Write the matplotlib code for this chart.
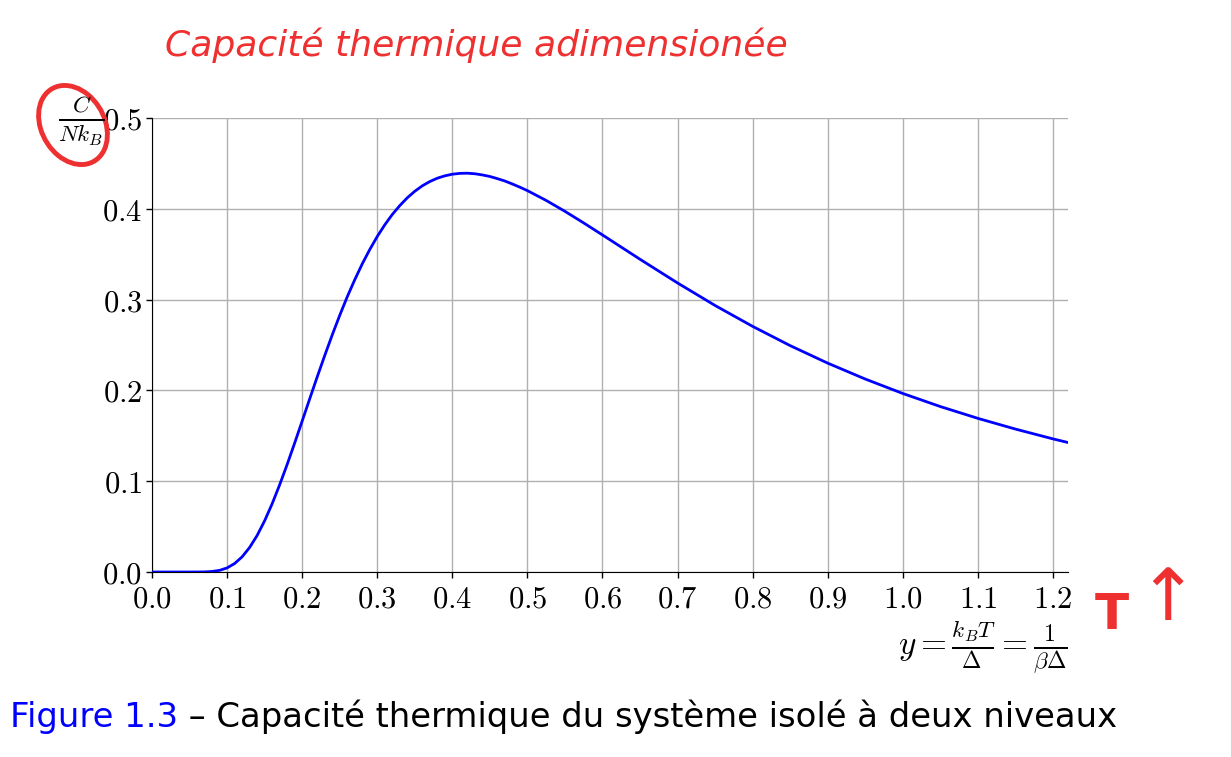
import matplotlib
matplotlib.use("Agg")
import matplotlib.pyplot as plt
from matplotlib.patches import Ellipse

plt.rcParams['mathtext.fontset'] = 'cm'

# values
y_vals = [0.0, 0.02, 0.04, 0.06, 0.07, 0.08, 0.09, 0.10, 0.11, 0.12, 0.13, 0.14,
          0.15, 0.16, 0.17, 0.18, 0.19, 0.20, 0.21, 0.22, 0.23, 0.24, 0.25, 0.26,
          0.27, 0.28, 0.29, 0.30, 0.31, 0.32, 0.33, 0.34, 0.35, 0.36, 0.37, 0.38,
          0.39, 0.40, 0.41, 0.42, 0.43, 0.44, 0.45, 0.46, 0.47, 0.48, 0.49, 0.50,
          0.525, 0.55, 0.575, 0.60, 0.65, 0.70, 0.75, 0.80, 0.85, 0.90, 0.95,
          1.00, 1.05, 1.10, 1.15, 1.20, 1.22]
c_vals = [0.0, 0.0, 0.0, 0.00002, 0.0001, 0.0006, 0.0018, 0.0045, 0.0093, 0.0167, 0.0270, 0.0402,
          0.0564, 0.0751, 0.0960, 0.1184, 0.1420, 0.1662, 0.1906, 0.2148, 0.2383, 0.2610, 0.2826, 0.3030,
          0.3218, 0.3393, 0.3551, 0.3695, 0.3823, 0.3937, 0.4035, 0.4121, 0.4193, 0.4253, 0.4300, 0.4337,
          0.4363, 0.4381, 0.4390, 0.4392, 0.4386, 0.4373, 0.4356, 0.4332, 0.4306, 0.4273, 0.4238, 0.4200,
          0.4092, 0.3972, 0.3844, 0.3712, 0.3444, 0.3183, 0.2935, 0.2705, 0.2493, 0.2300, 0.2125,
          0.1966, 0.1822, 0.1692, 0.1574, 0.1466, 0.1426]
xticks = [0.0, 0.1, 0.2, 0.3, 0.4, 0.5, 0.6, 0.7, 0.8, 0.9, 1.0, 1.1, 1.2]
yticks = [0.0, 0.1, 0.2, 0.3, 0.4, 0.5]

fig = plt.figure(figsize=(12.31, 7.57), dpi=100)
ax = fig.add_axes([152/1231, 1-572/757, 916/1231, 454/757])

ax.plot(y_vals, c_vals, color='#0000ff', lw=2.0, zorder=3)
ax.set_xlim(0, 1.22)
ax.set_ylim(0, 0.5)
ax.set_xticks(xticks)
ax.set_yticks(yticks)
ax.set_xticklabels(['$%.1f$' % t for t in xticks], fontsize=22)
ax.set_yticklabels(['$%.1f$' % t for t in yticks], fontsize=22)
ax.tick_params(direction='out', length=4, width=1, pad=3)
ax.tick_params(axis='x', pad=5)
ax.grid(True, color='#b0b0b0', lw=1)
ax.set_axisbelow(True)
for s in ['top', 'right']:
    ax.spines[s].set_visible(False)

fig.text(81/1231, 1-121/757, r'$\frac{C}{Nk_B}$', fontsize=24, ha='center', va='center')
fig.text(1068/1231, 1-647/757, r'$y = \frac{k_BT}{\Delta} = \frac{1}{\beta\Delta}$',
         fontsize=24, ha='right', va='center')

# red handwritten notes
red = '#ee3030'
fig.text(165/1231, 1-45/757, 'Capacité thermique adimensionée', color=red,
         fontsize=26, fontstyle='italic', va='center', family='DejaVu Sans')
fig.patches.append(Ellipse((73/1231, 1-125/757), 66/1231, 80/757, transform=fig.transFigure,
                           fill=False, ec=red, lw=3.5, angle=10))
fig.text(1112/1231, 1-615/757, 'T', color=red, fontsize=36, va='center', ha='center',
         fontweight='bold')
fig.text(1167/1231, 1-600/757, '↑', color=red, fontsize=52, va='center', ha='center')

# caption
t1 = fig.text(10/1231, 1-717/757, 'Figure 1.3', color='#0000ff', fontsize=24.4,
              va='center', family='DejaVu Sans')
fig.canvas.draw()
bb = t1.get_window_extent()
fig.text(bb.x1/1231, 1-717/757, ' – Capacité thermique du système isolé à deux niveaux',
         color='black', fontsize=24.4, va='center', family='DejaVu Sans')

fig.savefig('out.png', dpi=100)
